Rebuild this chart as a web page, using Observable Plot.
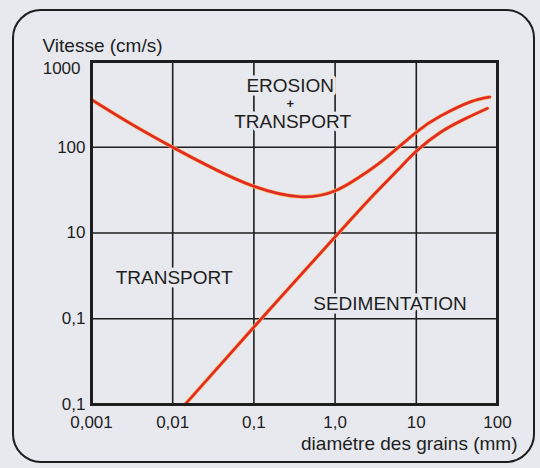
<!DOCTYPE html>
<html>
<head>
<meta charset="utf-8">
<script src="https://cdn.jsdelivr.net/npm/d3@7"></script>
<script src="https://cdn.jsdelivr.net/npm/@observablehq/plot@0.6"></script>
<style>
  html, body { margin: 0; padding: 0; background: #e7e9ef; }
</style>
</head>
<body>
<div id="chart"></div>
<script>
// Axis ticks and labels (as printed)
const xTicks = [0.001, 0.01, 0.1, 1, 10, 100];
const xTickLabels = ["0,001", "0,01", "0,1", "1,0", "10", "100"];
const yTicks = [0.1, 1, 10, 100, 1000];
const yTickLabels = ["0,1", "0,1", "10", "100", "1000"];

// Erosion threshold curve (grain diameter mm, velocity cm/s)
const erosionD = [0.001, 0.003, 0.01, 0.03, 0.1, 0.37, 1.0, 2.0, 4.0, 10, 20, 45, 80];
const erosionV = [360, 190, 100, 58, 35, 26.5, 31, 45, 72, 150, 232, 335, 385];

// Sedimentation threshold curve
const sedD = [0.0142, 0.1, 1.0, 3.0, 6.0, 10, 20, 40, 75];
const sedV = [0.1, 0.8, 9, 28, 55, 90, 150, 215, 284];

// Region labels
const regionText = ["EROSION", "+", "TRANSPORT", "TRANSPORT", "SEDIMENTATION"];
const regionD = [0.28, 0.28, 0.3, 0.0104, 4.74];
const regionV = [513, 324, 200, 3.03, 1.5];
const regionSize = [19, 13, 19, 19, 19];

const yTitle = "Vitesse (cm/s)";
const xTitle = "diamétre des grains (mm)";

const bg = "#e7e9ef";
const ink = "#1e1e1e";
const red = "#e2282a";
const fringe = "#f4b344";

const erosion = erosionD.map((d, i) => ({d, v: erosionV[i]}));
const sed = sedD.map((d, i) => ({d, v: sedV[i]}));
const regions = regionText.map((t, i) => ({t, d: regionD[i], v: regionV[i], s: regionSize[i]}));
const fmtY = d => yTickLabels[yTicks.indexOf(d)];

const chart = Plot.plot({
  width: 540,
  height: 468,
  marginLeft: 91,
  marginRight: 43,
  marginTop: 61,
  marginBottom: 64,
  style: {fontFamily: "'Liberation Sans', Arial, sans-serif", background: bg, color: ink},
  x: {type: "log", domain: [0.001, 100]},
  y: {type: "log", domain: [0.1, 1000]},
  marks: [
    Plot.ruleX(xTicks, {stroke: ink, strokeWidth: 1.6}),
    Plot.ruleY(yTicks, {stroke: ink, strokeWidth: 1.6}),
    Plot.text(regions.filter(r => r.s > 15), {x: "d", y: "v", text: "t", fontSize: 19, fill: ink, stroke: bg, strokeWidth: 7, paintOrder: "stroke"}),
    Plot.text(regions.filter(r => r.s <= 15), {x: "d", y: "v", text: "t", fontSize: 13, fontWeight: "bold", fill: ink, stroke: bg, strokeWidth: 5, paintOrder: "stroke"}),
    Plot.line(erosion, {x: "d", y: "v", curve: "natural", stroke: fringe, strokeWidth: 3.8}),
    Plot.line(erosion, {x: "d", y: "v", curve: "natural", stroke: red, strokeWidth: 2.6}),
    Plot.line(sed, {x: "d", y: "v", curve: "natural", stroke: fringe, strokeWidth: 3.8}),
    Plot.line(sed, {x: "d", y: "v", curve: "natural", stroke: red, strokeWidth: 2.6}),
    Plot.frame({stroke: ink, strokeWidth: 3}),
    Plot.axisX(xTicks, {tickSize: 0, tickPadding: 11, fontSize: 17, label: null, tickFormat: d => xTickLabels[xTicks.indexOf(d)]}),
    Plot.axisY(yTicks.filter(d => d < 1000), {tickSize: 0, tickPadding: 6, fontSize: 17, label: null, tickFormat: fmtY}),
    Plot.axisY(yTicks.filter(d => d >= 1000), {tickSize: 0, tickPadding: 11, dy: 7, fontSize: 17, label: null, tickFormat: fmtY}),
    Plot.text([yTitle], {frameAnchor: "top-left", dx: -49, dy: -16, textAnchor: "start", lineAnchor: "middle", fontSize: 19, fill: ink}),
    Plot.text([xTitle], {frameAnchor: "bottom-right", dx: 20, dy: 39, textAnchor: "end", lineAnchor: "middle", fontSize: 19, fill: ink})
  ]
});

// Rounded card border
d3.select(chart).append("rect")
  .attr("x", 13).attr("y", 10).attr("width", 521).attr("height", 452)
  .attr("rx", 28).attr("ry", 28)
  .attr("fill", "none").attr("stroke", ink).attr("stroke-width", 2);

document.getElementById("chart").append(chart);
</script>
</body>
</html>
